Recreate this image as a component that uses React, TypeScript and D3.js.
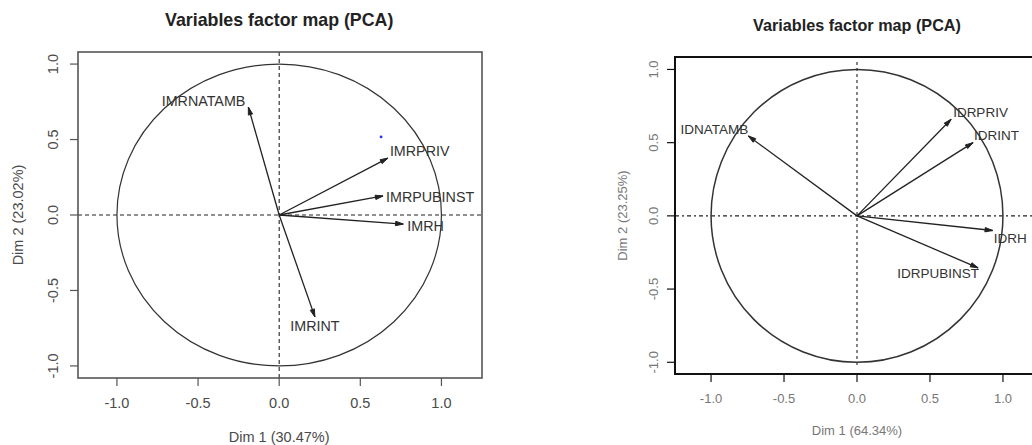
import React from 'react';
import * as d3 from 'd3';

// Left PCA (IMR variables)
const leftVars = ['IMRNATAMB', 'IMRPRIV', 'IMRPUBINST', 'IMRH', 'IMRINT'];
const leftDim1 = [-0.19, 0.67, 0.64, 0.765, 0.22];
const leftDim2 = [0.715, 0.377, 0.126, -0.06, -0.675];
const leftExtraPoint = [0.628, 0.517];

// Right PCA (ID variables)
const rightVars = ['IDNATAMB', 'IDRPRIV', 'IDRINT', 'IDRH', 'IDRPUBINST'];
const rightDim1 = [-0.745, 0.645, 0.795, 0.93, 0.83];
const rightDim2 = [0.546, 0.66, 0.5, -0.1, -0.355];

const tickValues = [-1, -0.5, 0, 0.5, 1];
// R prints a plain hyphen for negatives
const fmt = (v: number) => d3.format('.1f')(v).replace('\u2212', '-');

const FONT = "'Liberation Sans', Arial, Helvetica, sans-serif";

// [anchor, dx, dy] of each label relative to arrow tip
const leftLabelPlace: [string, number, number][] = [
  ['end', -3, -6],
  ['start', 2, -7],
  ['start', 3, 1],
  ['start', 4, 2],
  ['middle', 0, 9],
];
const rightLabelPlace: [string, number, number][] = [
  ['end', 0, -6],
  ['start', 2, -7],
  ['start', 1, -7],
  ['start', 1, 8],
  ['end', 1, 6],
];

type PanelProps = {
  title: string;
  xLabel: string;
  yLabel: string;
  names: string[];
  dim1: number[];
  dim2: number[];
  place: [string, number, number][];
  box: { x0: number; x1: number; y0: number; y1: number };
  xlim: [number, number];
  ylim: [number, number];
  titleY: number;
  titleSize: number;
  tickLabelX: number;
  tickLabelY: number;
  xLabelY: number;
  yLabelX: number;
  fontSize: number;
  labelSize: number;
  tickColor: string;
  boxColor: string;
  boxWidth: number;
  circleWidth: number;
  hDash: string;
  vDash: string;
  vExtent?: [number, number];
  extraPoint?: number[];
};

function Panel(p: PanelProps) {
  const x = d3.scaleLinear().domain(p.xlim).range([p.box.x0, p.box.x1]);
  const y = d3.scaleLinear().domain(p.ylim).range([p.box.y1, p.box.y0]);
  const cx = x(0);
  const cy = y(0);
  const rx = x(1) - x(0);
  const ry = y(0) - y(1);
  const midY = (p.box.y0 + p.box.y1) / 2;

  const head = (x1: number, y1: number) => {
    const ang = Math.atan2(y1 - cy, x1 - cx);
    const len = 8;
    const a = (16 * Math.PI) / 180;
    const p1 = [x1 - len * Math.cos(ang - a), y1 - len * Math.sin(ang - a)];
    const p2 = [x1 - len * Math.cos(ang + a), y1 - len * Math.sin(ang + a)];
    return `M${p1[0]},${p1[1]}L${x1},${y1}L${p2[0]},${p2[1]}Z`;
  };

  const vTop = p.vExtent ? p.vExtent[0] : p.box.y0;
  const vBot = p.vExtent ? p.vExtent[1] : p.box.y1;

  return (
    <g fontFamily={FONT}>
      <text x={cx} y={p.titleY} textAnchor="middle" dominantBaseline="central"
        fontWeight="bold" fontSize={p.titleSize} fill="#222">{p.title}</text>

      {/* reference lines */}
      <line x1={p.box.x0} x2={p.box.x1} y1={cy} y2={cy} stroke="#222" strokeWidth={1.1} strokeDasharray={p.hDash} />
      <line x1={cx} x2={cx} y1={vTop} y2={vBot} stroke="#222" strokeWidth={1.1} strokeDasharray={p.vDash} />

      {/* correlation circle */}
      <ellipse cx={cx} cy={cy} rx={rx} ry={ry} fill="none" stroke="#333" strokeWidth={p.circleWidth} />

      {/* arrows */}
      {p.names.map((n, i) => {
        const tx = x(p.dim1[i]);
        const ty = y(p.dim2[i]);
        const [anchor, dx, dy] = p.place[i];
        return (
          <g key={n}>
            <line x1={cx} y1={cy} x2={tx} y2={ty} stroke="#222" strokeWidth={1.3} />
            <path d={head(tx, ty)} fill="#222" stroke="#222" strokeWidth={1} strokeLinejoin="round" />
            <text x={tx + dx} y={ty + dy} textAnchor={anchor} dominantBaseline="central"
              fontSize={p.labelSize} fill="#333">{n}</text>
          </g>
        );
      })}

      {p.extraPoint && (
        <circle cx={x(p.extraPoint[0])} cy={y(p.extraPoint[1])} r={1.4} fill="#2233ee" />
      )}

      {/* box */}
      <rect x={p.box.x0} y={p.box.y0} width={p.box.x1 - p.box.x0} height={p.box.y1 - p.box.y0}
        fill="none" stroke={p.boxColor} strokeWidth={p.boxWidth} />

      {/* x axis */}
      {tickValues.map((t) => (
        <g key={'x' + t}>
          <line x1={x(t)} x2={x(t)} y1={p.box.y1} y2={p.box.y1 + 8} stroke={p.boxColor} strokeWidth={1.2} />
          <text x={x(t)} y={p.tickLabelY} textAnchor="middle" dominantBaseline="central"
            fontSize={p.fontSize} fill={p.tickColor}>{fmt(t)}</text>
        </g>
      ))}

      {/* y axis */}
      {tickValues.map((t) => (
        <g key={'y' + t}>
          <line x1={p.box.x0 - 8} x2={p.box.x0} y1={y(t)} y2={y(t)} stroke={p.boxColor} strokeWidth={1.2} />
          <text transform={`translate(${p.tickLabelX},${y(t)}) rotate(-90)`} textAnchor="middle"
            dominantBaseline="central" fontSize={p.fontSize} fill={p.tickColor}>{fmt(t)}</text>
        </g>
      ))}

      <text x={cx} y={p.xLabelY} textAnchor="middle" dominantBaseline="central"
        fontSize={p.fontSize} fill={p.tickColor}>{p.xLabel}</text>
      <text transform={`translate(${p.yLabelX},${midY}) rotate(-90)`} textAnchor="middle"
        dominantBaseline="central" fontSize={p.fontSize} fill={p.tickColor}>{p.yLabel}</text>
    </g>
  );
}

export default function App() {
  return (
    <svg width={1032} height={445} style={{ position: 'absolute', left: 0, top: 0, background: '#fff' }}>
      <rect width={1032} height={445} fill="#fff" />
      <Panel
        title="Variables factor map (PCA)"
        xLabel="Dim 1 (30.47%)"
        yLabel="Dim 2 (23.02%)"
        names={leftVars}
        dim1={leftDim1}
        dim2={leftDim2}
        place={leftLabelPlace}
        box={{ x0: 78, x1: 482, y0: 52, y1: 378 }}
        xlim={[-1.24, 1.25]}
        ylim={[-1.08, 1.08]}
        titleY={20}
        titleSize={17.8}
        tickLabelX={53}
        tickLabelY={403}
        xLabelY={437}
        yLabelX={18}
        fontSize={14.5}
        labelSize={14.3}
        tickColor="#4a4a4a"
        boxColor="#555"
        boxWidth={1.6}
        circleWidth={1.2}
        hDash="4,3"
        vDash="4,3"
        extraPoint={leftExtraPoint}
      />
      <Panel
        title="Variables factor map (PCA)"
        xLabel="Dim 1 (64.34%)"
        yLabel="Dim 2 (23.25%)"
        names={rightVars}
        dim1={rightDim1}
        dim2={rightDim2}
        place={rightLabelPlace}
        box={{ x0: 675, x1: 1039, y0: 57, y1: 374 }}
        xlim={[-1.247, 1.247]}
        ylim={[-1.08, 1.085]}
        titleY={25}
        titleSize={16.2}
        tickLabelX={653}
        tickLabelY={398}
        xLabelY={430}
        yLabelX={622}
        fontSize={13}
        labelSize={13.5}
        tickColor="#777"
        boxColor="#111"
        boxWidth={2}
        circleWidth={1.5}
        hDash="4,3,2,3"
        vDash="3,3"
        vExtent={[62, 368]}
      />
    </svg>
  );
}
